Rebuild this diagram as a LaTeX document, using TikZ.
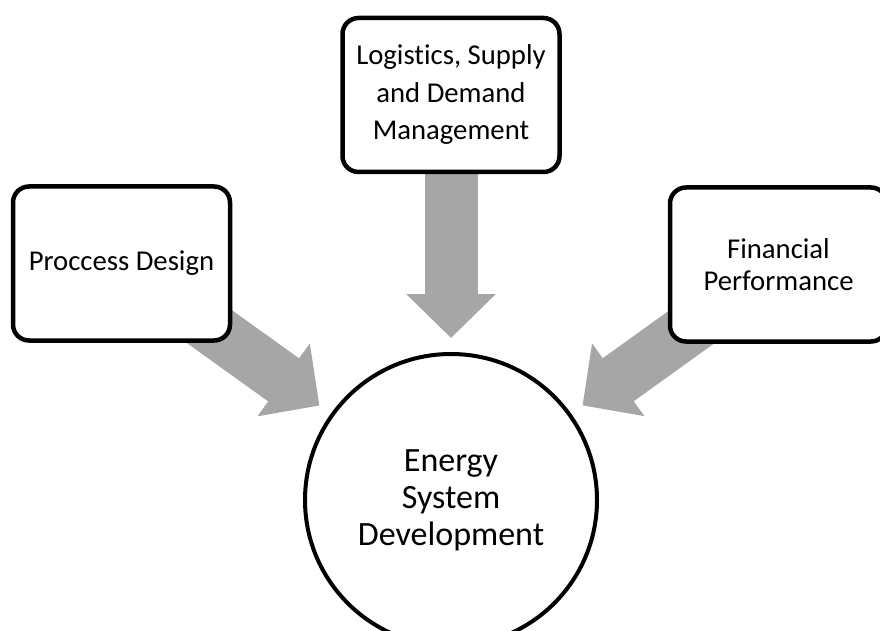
\documentclass[tikz,border=0pt]{standalone}
\usepackage{fontspec}
\setmainfont{Carlito}[Ligatures=NoCommon]
\usetikzlibrary{positioning}
\usetikzlibrary{arrows.meta, backgrounds}
\definecolor{arrowgray}{RGB}{166,166,166}

\begin{document}
\begin{tikzpicture}[x=1pt,y=-1pt,
  topic/.style={draw=black,fill=white,line width=4.5pt,rounded corners=16pt,
    minimum width=217pt,minimum height=154pt,align=center,
    font=\fontsize{28.7}{37.5}\selectfont},
  hub/.style={circle,draw=black,fill=white,line width=4pt,minimum size=292pt,
    align=center,font=\fontsize{34}{37}\selectfont},
  flow/.style={draw=arrowgray,line width=53pt,shorten >=14pt,
    -{Triangle[length=44pt,width=87pt]}}]
\clip (0,0) rectangle (880,631);
\node[hub] (energy) at (451,500) {Energy\\System\\Development};
\node[topic] (design) at (121.5,263.5) {Proccess Design};
\node[topic] (logistics) at (451,95) {Logistics, Supply\\and Demand\\Management};
\node[topic,font=\fontsize{28.7}{32}\selectfont] (finance) at (778.5,264.5) {Financial\\Performance};

\begin{scope}[on background layer]
\draw[flow] (design.center) -- (energy);
\draw[flow] (logistics.center) -- (energy);
\draw[flow] (finance.center) -- (energy);
\end{scope}

\end{tikzpicture}
\end{document}
